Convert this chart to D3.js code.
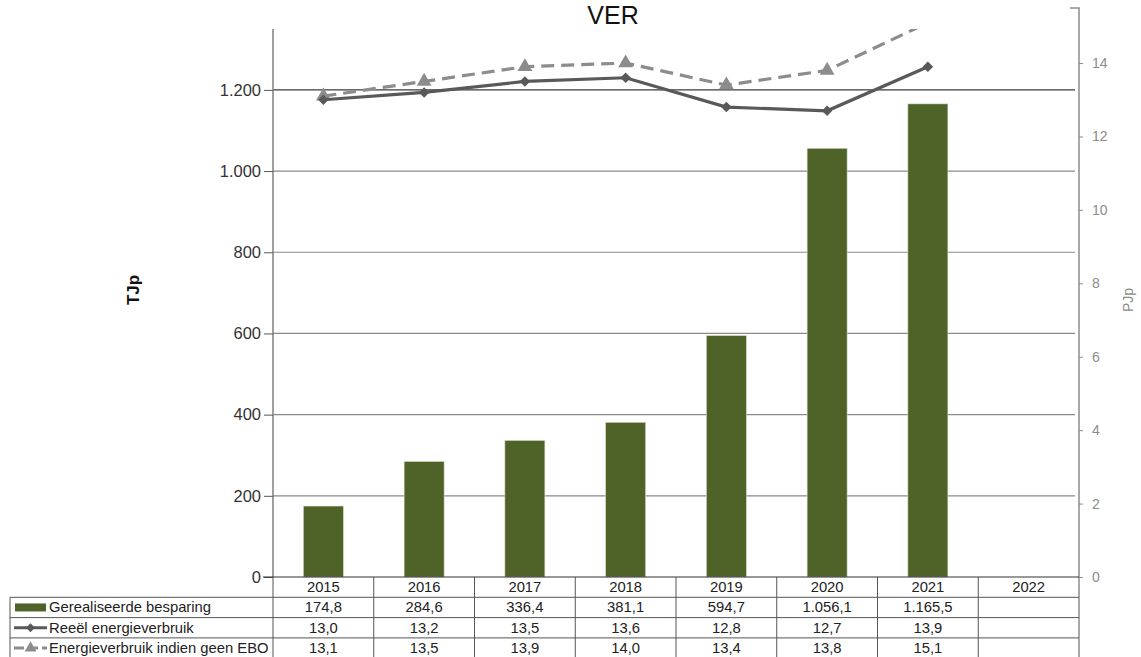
<!DOCTYPE html>
<html>
<head>
<meta charset="utf-8">
<script src="https://cdn.jsdelivr.net/npm/d3@7"></script>
<style>
  body { margin: 0; background: #fff; }
  svg { font-family: "Liberation Sans", Arial, sans-serif; }
</style>
</head>
<body>
<script>
const width = 1141;
const height = 657;

// data
const years = ["2015", "2016", "2017", "2018", "2019", "2020", "2021", "2022"];
const besparing = [174.8, 284.6, 336.4, 381.1, 594.7, 1056.1, 1165.5, null];
const reeel = [13.0, 13.2, 13.5, 13.6, 12.8, 12.7, 13.9, null];
const geenEbo = [13.1, 13.5, 13.9, 14.0, 13.4, 13.8, 15.1, null];
const leftTicks = [0, 200, 400, 600, 800, 1000, 1200];
const rightTicks = [0, 2, 4, 6, 8, 10, 12, 14];
const seriesNames = ["Gerealiseerde besparing", "Reeël energieverbruik", "Energieverbruik indien geen EBO"];

const plot = { left: 273, right: 1079, top: 29, bottom: 577 };
const rowH = 20.3;
const tableLeft = 10;

const nl = d3.formatLocale({ decimal: ",", thousands: ".", grouping: [3], currency: ["€", ""] });
const fmtInt = nl.format(",d");
const fmt1 = nl.format(",.1f");

const svg = d3.select("body").append("svg")
    .attr("width", width)
    .attr("height", height);

const x = d3.scaleBand()
    .domain(years)
    .range([plot.left, plot.right]);

const yLeft = d3.scaleLinear()
    .domain([0, 1350])
    .range([plot.bottom, plot.top]);

const yRight = d3.scaleLinear()
    .domain([0, 15.5])
    .range([plot.bottom, plot.bottom - 15.5 * 36.71]);

svg.append("defs").append("clipPath").attr("id", "plotclip")
    .append("rect")
    .attr("x", plot.left).attr("y", plot.top)
    .attr("width", plot.right - plot.left).attr("height", plot.bottom - plot.top);

// gridlines
svg.append("g")
    .selectAll("line")
    .data(leftTicks.filter(d => d > 0))
    .join("line")
    .attr("x1", plot.left).attr("x2", plot.right - 4)
    .attr("y1", d => yLeft(d)).attr("y2", d => yLeft(d))
    .attr("stroke", d => d === 1200 ? "#3a3a3a" : "#8a8a8a")
    .attr("stroke-width", 1.2);

// left axis
const axL = svg.append("g")
    .attr("transform", `translate(${plot.left},0)`)
    .call(d3.axisLeft(yLeft).tickValues(leftTicks).tickFormat(fmtInt).tickSize(9).tickPadding(3));
axL.select(".domain").attr("stroke", "#7f7f7f").attr("stroke-width", 1.5)
    .attr("d", `M0,${plot.top}V${plot.bottom}`);
axL.selectAll(".tick line").attr("stroke", "#555");
axL.selectAll(".tick text").attr("font-size", 16.5).attr("fill", "#333")
    .attr("font-family", "Liberation Sans, Arial, sans-serif");

// right axis
const axR = svg.append("g")
    .attr("transform", `translate(${plot.right},0)`)
    .call(d3.axisRight(yRight).tickValues(rightTicks).tickSize(4).tickPadding(9));
axR.select(".domain").attr("stroke", "#8c8c8c").attr("stroke-width", 1.5)
    .attr("d", `M-9,${yRight(15.5)}H0V${height}`);
axR.selectAll(".tick line").attr("stroke", "#8c8c8c");
axR.selectAll(".tick text").attr("font-size", 14).attr("fill", "#8c8c8c")
    .attr("font-family", "Liberation Sans, Arial, sans-serif");

// bars
const barW = 40;
svg.append("g")
    .selectAll("rect")
    .data(years.map((y, i) => ({ year: y, v: besparing[i] })).filter(d => d.v != null))
    .join("rect")
    .attr("x", d => x(d.year) + x.bandwidth() / 2 - barW / 2)
    .attr("y", d => yLeft(d.v))
    .attr("width", barW)
    .attr("height", d => yLeft(0) - yLeft(d.v))
    .attr("fill", "#4f6228")
    .attr("stroke", "#d8dcc8")
    .attr("stroke-width", 0.6);

// lines
const cx = d => x(d.year) + x.bandwidth() / 2;
const lineGen = d3.line().x(cx).y(d => yRight(d.v));
const pts = arr => years.map((y, i) => ({ year: y, v: arr[i] })).filter(d => d.v != null);

const lines = svg.append("g").attr("clip-path", "url(#plotclip)");

lines.append("path")
    .datum(pts(geenEbo))
    .attr("d", lineGen)
    .attr("fill", "none")
    .attr("stroke", "#8c8c8c")
    .attr("stroke-width", 3.2)
    .attr("stroke-dasharray", "13,7");

lines.selectAll(".tri")
    .data(pts(geenEbo))
    .join("path")
    .attr("class", "tri")
    .attr("transform", d => `translate(${cx(d)},${yRight(d.v)})`)
    .attr("d", d3.symbol(d3.symbolTriangle, 95))
    .attr("fill", "#8c8c8c");

lines.append("path")
    .datum(pts(reeel))
    .attr("d", lineGen)
    .attr("fill", "none")
    .attr("stroke", "#595959")
    .attr("stroke-width", 3.2);

lines.selectAll(".dia")
    .data(pts(reeel))
    .join("path")
    .attr("class", "dia")
    .attr("transform", d => `translate(${cx(d)},${yRight(d.v)}) rotate(45)`)
    .attr("d", d3.symbol(d3.symbolSquare, 55))
    .attr("fill", "#595959");

// x axis line
svg.append("line")
    .attr("x1", plot.left - 10).attr("x2", plot.right)
    .attr("y1", plot.bottom).attr("y2", plot.bottom)
    .attr("stroke", "#333").attr("stroke-width", 1.2);

// data table
const table = svg.append("g");
const rowsY = [0, 1, 2, 3, 4].map(i => plot.bottom + i * rowH);
const lineColor = "#555";
const tableFont = 14.8;

rowsY.slice(1).forEach(yy => {
    table.append("line")
        .attr("x1", tableLeft).attr("x2", plot.right)
        .attr("y1", yy).attr("y2", yy)
        .attr("stroke", lineColor).attr("stroke-width", 1);
});
table.append("line")
    .attr("x1", tableLeft).attr("x2", tableLeft)
    .attr("y1", rowsY[1]).attr("y2", height)
    .attr("stroke", lineColor);
table.selectAll(".vcol")
    .data(years)
    .join("line")
    .attr("x1", d => x(d)).attr("x2", d => x(d))
    .attr("y1", plot.bottom).attr("y2", height)
    .attr("stroke", lineColor);

// year header
table.selectAll(".yr")
    .data(years)
    .join("text")
    .attr("x", d => x(d) + x.bandwidth() / 2)
    .attr("y", plot.bottom + rowH / 2 + 5)
    .attr("text-anchor", "middle")
    .attr("font-size", tableFont)
    .attr("fill", "#222")
    .text(d => d);

const rowsData = [
    besparing.map(v => v == null ? "" : fmt1(v)),
    reeel.map(v => v == null ? "" : fmt1(v)),
    geenEbo.map(v => v == null ? "" : fmt1(v))
];

rowsData.forEach((row, r) => {
    table.selectAll(".cell" + r)
        .data(row)
        .join("text")
        .attr("x", (d, i) => x(years[i]) + x.bandwidth() / 2)
        .attr("y", rowsY[r + 1] + rowH / 2 + 5)
        .attr("text-anchor", "middle")
        .attr("font-size", tableFont)
        .attr("fill", "#222")
        .text(d => d);

    table.append("text")
        .attr("x", 49)
        .attr("y", rowsY[r + 1] + rowH / 2 + 5)
        .attr("font-size", tableFont)
        .attr("fill", "#222")
        .text(seriesNames[r]);
});

// legend keys
const ky = r => rowsY[r + 1] + rowH / 2;
table.append("rect")
    .attr("x", 15).attr("y", ky(0) - 4).attr("width", 31).attr("height", 8)
    .attr("fill", "#4f6228");
table.append("line")
    .attr("x1", 14).attr("x2", 47).attr("y1", ky(1)).attr("y2", ky(1))
    .attr("stroke", "#595959").attr("stroke-width", 3);
table.append("path")
    .attr("transform", `translate(30.5,${ky(1)}) rotate(45)`)
    .attr("d", d3.symbol(d3.symbolSquare, 40))
    .attr("fill", "#595959");
table.append("line")
    .attr("x1", 14).attr("x2", 47).attr("y1", ky(2)).attr("y2", ky(2))
    .attr("stroke", "#8c8c8c").attr("stroke-width", 3)
    .attr("stroke-dasharray", "10,4");
table.append("path")
    .attr("transform", `translate(30.5,${ky(2)})`)
    .attr("d", d3.symbol(d3.symbolTriangle, 60))
    .attr("fill", "#8c8c8c");

// titles
svg.append("text")
    .attr("x", 613).attr("y", 24)
    .attr("text-anchor", "middle")
    .attr("font-size", 25)
    .attr("fill", "#111")
    .text("VER");

svg.append("text")
    .attr("transform", "translate(139,290) rotate(-90)")
    .attr("text-anchor", "middle")
    .attr("font-size", 17)
    .attr("font-weight", "bold")
    .attr("fill", "#111")
    .text("TJp");

svg.append("text")
    .attr("transform", "translate(1133,300) rotate(-90)")
    .attr("text-anchor", "middle")
    .attr("font-size", 14)
    .attr("fill", "#8c8c8c")
    .text("PJp");
</script>
</body>
</html>
